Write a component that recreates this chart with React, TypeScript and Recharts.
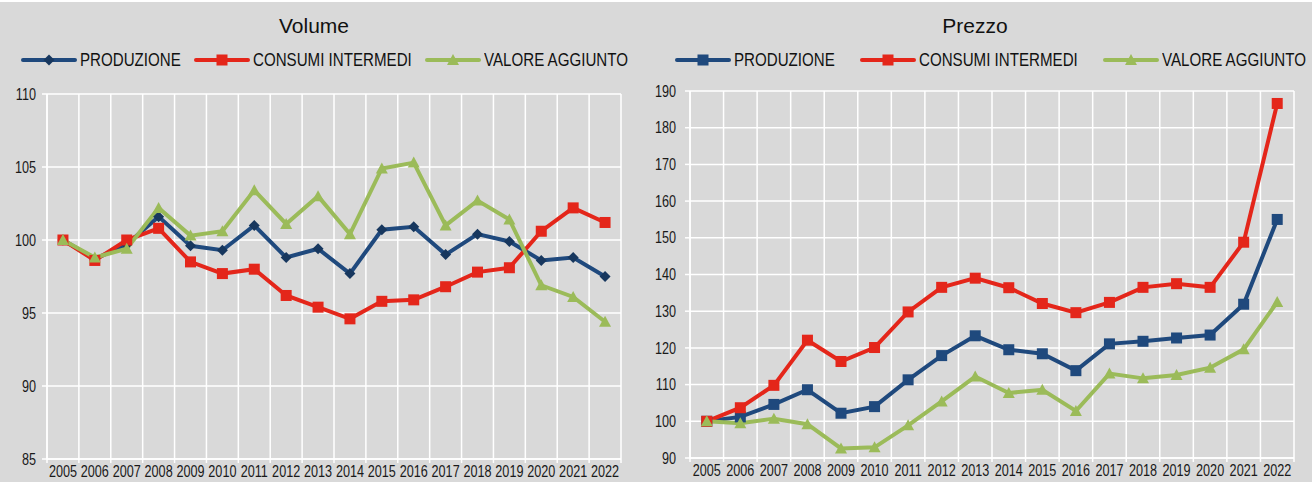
import React from "react";
import { LineChart, Line, XAxis, YAxis, CartesianGrid } from "recharts";

const SANS = "'Liberation Sans', Arial, sans-serif";
// no narrow face installed: squeeze Liberation Sans horizontally instead
const TICK_SQUEEZE = 0.79;
const LEGEND_SQUEEZE = 0.84;

const BLUE = "#1f497d";
const BLUE_DARK = "#17375e";
const RED = "#e4261a";
const GREEN = "#9bbb59";

const years = [
  "2005", "2006", "2007", "2008", "2009", "2010", "2011", "2012", "2013",
  "2014", "2015", "2016", "2017", "2018", "2019", "2020", "2021", "2022",
];

// Volume
const volProduzione = [100, 98.7, 99.7, 101.6, 99.6, 99.3, 101.0, 98.8, 99.4, 97.7, 100.7, 100.9, 99.0, 100.4, 99.9, 98.6, 98.8, 97.5];
const volConsumi = [100, 98.6, 100.0, 100.8, 98.5, 97.7, 98.0, 96.2, 95.4, 94.6, 95.8, 95.9, 96.8, 97.8, 98.1, 100.6, 102.2, 101.2];
const volValore = [100, 98.8, 99.4, 102.2, 100.3, 100.6, 103.4, 101.1, 103.0, 100.4, 104.9, 105.3, 101.0, 102.7, 101.4, 96.9, 96.1, 94.4];
const volTicks = [85, 90, 95, 100, 105, 110];

// Prezzo
const przProduzione = [100, 101.2, 104.6, 108.6, 102.2, 104.0, 111.3, 117.9, 123.3, 119.5, 118.4, 113.8, 121.1, 121.8, 122.7, 123.5, 131.9, 155.0];
const przConsumi = [100, 103.7, 109.8, 122.1, 116.3, 120.1, 129.8, 136.5, 139.0, 136.4, 132.1, 129.6, 132.4, 136.5, 137.5, 136.5, 148.8, 186.6];
const przValore = [100, 99.5, 100.7, 99.2, 92.6, 92.9, 98.9, 105.4, 112.2, 107.7, 108.6, 102.8, 113.0, 111.7, 112.6, 114.6, 119.6, 132.5];
const przTicks = [90, 100, 110, 120, 130, 140, 150, 160, 170, 180, 190];

const seriesNames = ["PRODUZIONE", "CONSUMI INTERMEDI", "VALORE AGGIUNTO"];

const buildRows = (a: number[], b: number[], c: number[]) =>
  years.map((year, i) => ({ year, produzione: a[i], consumi: b[i], valore: c[i] }));

const volumeData = buildRows(volProduzione, volConsumi, volValore);
const prezzoData = buildRows(przProduzione, przConsumi, przValore);

type Shape = "square" | "diamond" | "triangle";

function Marker({ cx, cy, kind, color, size }: { cx: number; cy: number; kind: Shape; color: string; size: number }) {
  if (cx == null || cy == null) return null;
  const h = size / 2;
  if (kind === "square") {
    return <rect x={cx - h} y={cy - h} width={size} height={size} fill={color} />;
  }
  if (kind === "diamond") {
    return <path d={`M${cx},${cy - h} L${cx + h},${cy} L${cx},${cy + h} L${cx - h},${cy} Z`} fill={color} />;
  }
  return <path d={`M${cx},${cy - h - 1} L${cx + h + 1},${cy + h} L${cx - h - 1},${cy + h} Z`} fill={color} />;
}

function LegendItem({ left, label, color, kind, markerColor, size }: any) {
  return (
    <div style={{ position: "absolute", left, top: 50, height: 20, display: "flex", alignItems: "center" }}>
      <svg width={56} height={20} style={{ display: "block" }}>
        <line x1={2} x2={54} y1={10} y2={10} stroke={color} strokeWidth={4} strokeLinecap="round" />
        <Marker cx={28} cy={10} kind={kind} color={markerColor} size={size} />
      </svg>
      <span
        style={{
          display: "inline-block",
          marginLeft: 3,
          fontFamily: SANS,
          fontSize: 18,
          lineHeight: "20px",
          color: "#111",
          whiteSpace: "nowrap",
          transform: `scaleX(${LEGEND_SQUEEZE})`,
          transformOrigin: "left center",
        }}
      >
        {label}
      </span>
    </div>
  );
}

const makeXTick = (plotBottom: number, band: number, count: number) => (props: any) => {
  const { x, index, payload } = props;
  const x0 = x - band / 2;
  return (
    <g>
      <line x1={x0} x2={x0} y1={plotBottom} y2={plotBottom + 4} stroke="#fff" strokeWidth={1.5} />
      {index === count - 1 && (
        <line x1={x + band / 2} x2={x + band / 2} y1={plotBottom} y2={plotBottom + 4} stroke="#fff" strokeWidth={1.5} />
      )}
      <text
        transform={`translate(${x},${plotBottom + 18}) scale(${TICK_SQUEEZE},1)`}
        textAnchor="middle"
        fill="#1a1a1a"
        fontSize={16}
        fontFamily={SANS}
      >
        {payload.value}
      </text>
    </g>
  );
};

function YTick(props: any) {
  const { x, y, payload } = props;
  return (
    <text
      transform={`translate(${x},${y}) scale(${TICK_SQUEEZE},1)`}
      dy="0.355em"
      textAnchor="end"
      fill="#1a1a1a"
      fontSize={16}
      fontFamily={SANS}
    >
      {payload.value}
    </text>
  );
}

interface PanelProps {
  left: number;
  width: number;
  title: string;
  titleCenter: number;
  data: typeof volumeData;
  domain: [number, number];
  ticks: number[];
  yWidth: number;
  yTickMargin: number;
  margin: { top: number; right: number; left: number; bottom: number };
  xHeight: number;
  legendStarts: number[];
  prodShape: Shape;
  prodSize: number;
  prodMarkerColor: string;
}

function Panel(p: PanelProps) {
  const height = 482;
  const plotWidth = p.width - p.margin.left - p.margin.right - p.yWidth;
  const plotBottom = height - p.margin.bottom - p.xHeight;
  const band = plotWidth / years.length;
  const XTick = makeXTick(plotBottom, band, years.length);

  const series = [
    { key: "produzione", color: BLUE, kind: p.prodShape, markerColor: p.prodMarkerColor, size: p.prodSize },
    { key: "consumi", color: RED, kind: "square" as Shape, markerColor: RED, size: 11 },
    { key: "valore", color: GREEN, kind: "triangle" as Shape, markerColor: GREEN, size: 10 },
  ];

  return (
    <div style={{ position: "absolute", left: p.left, top: 0, width: p.width, height }}>
      <div
        style={{
          position: "absolute",
          left: p.titleCenter - 100,
          width: 200,
          top: 15,
          textAlign: "center",
          fontFamily: SANS,
          fontSize: 21,
          lineHeight: "21px",
          color: "#111",
        }}
      >
        {p.title}
      </div>
      {series.map((s, i) => (
        <LegendItem
          key={s.key}
          left={p.legendStarts[i]}
          label={seriesNames[i]}
          color={s.color}
          kind={s.kind}
          markerColor={s.markerColor}
          size={s.size}
        />
      ))}
      <LineChart width={p.width} height={height} data={p.data} margin={p.margin}>
        <CartesianGrid
          stroke="#ffffff"
          strokeWidth={1.5}
          verticalCoordinatesGenerator={({ offset }: any) =>
            Array.from({ length: years.length + 1 }, (_, i) => offset.left + (i * offset.width) / years.length)
          }
        />
        <XAxis
          dataKey="year"
          scale="band"
          interval={0}
          height={p.xHeight}
          tickLine={false}
          axisLine={{ stroke: "#fff", strokeWidth: 1.5 }}
          tick={<XTick />}
        />
        <YAxis
          domain={p.domain}
          ticks={p.ticks}
          width={p.yWidth}
          interval={0}
          allowDataOverflow
          tickSize={5}
          tickMargin={p.yTickMargin}
          tickLine={{ stroke: "#fff", strokeWidth: 1.5 }}
          axisLine={{ stroke: "#fff", strokeWidth: 1.5 }}
          tick={<YTick />}
        />
        {series.map((s) => (
          <Line
            key={s.key}
            dataKey={s.key}
            stroke={s.color}
            strokeWidth={4}
            isAnimationActive={false}
            dot={(d: any) => (
              <Marker key={`${s.key}-${d.index}`} cx={d.cx} cy={d.cy} kind={s.kind} color={s.markerColor} size={s.size} />
            )}
            activeDot={false}
          />
        ))}
      </LineChart>
    </div>
  );
}

export default function App() {
  return (
    <div
      style={{
        position: "absolute",
        left: 0,
        top: 0,
        width: 1312,
        height: 482,
        background: "#d9d9d9",
        overflow: "hidden",
      }}
    >
      <div style={{ position: "absolute", left: 0, top: 0, width: 1312, height: 2, background: "#fff" }} />
      <Panel
        left={0}
        width={650}
        title="Volume"
        titleCenter={314}
        data={volumeData}
        domain={[85, 110]}
        ticks={volTicks}
        yWidth={47}
        yTickMargin={6}
        margin={{ top: 94, right: 29, left: 0, bottom: 0 }}
        xHeight={23}
        legendStarts={[21, 194, 425]}
        prodShape="diamond"
        prodSize={11}
        prodMarkerColor={BLUE_DARK}
      />
      <Panel
        left={650}
        width={662}
        title="Prezzo"
        titleCenter={325}
        data={prezzoData}
        domain={[90, 190]}
        ticks={przTicks}
        yWidth={40}
        yTickMargin={9}
        margin={{ top: 91, right: 18, left: 0, bottom: 0 }}
        xHeight={24}
        legendStarts={[25, 210, 453]}
        prodShape="square"
        prodSize={11}
        prodMarkerColor={BLUE}
      />
    </div>
  );
}
